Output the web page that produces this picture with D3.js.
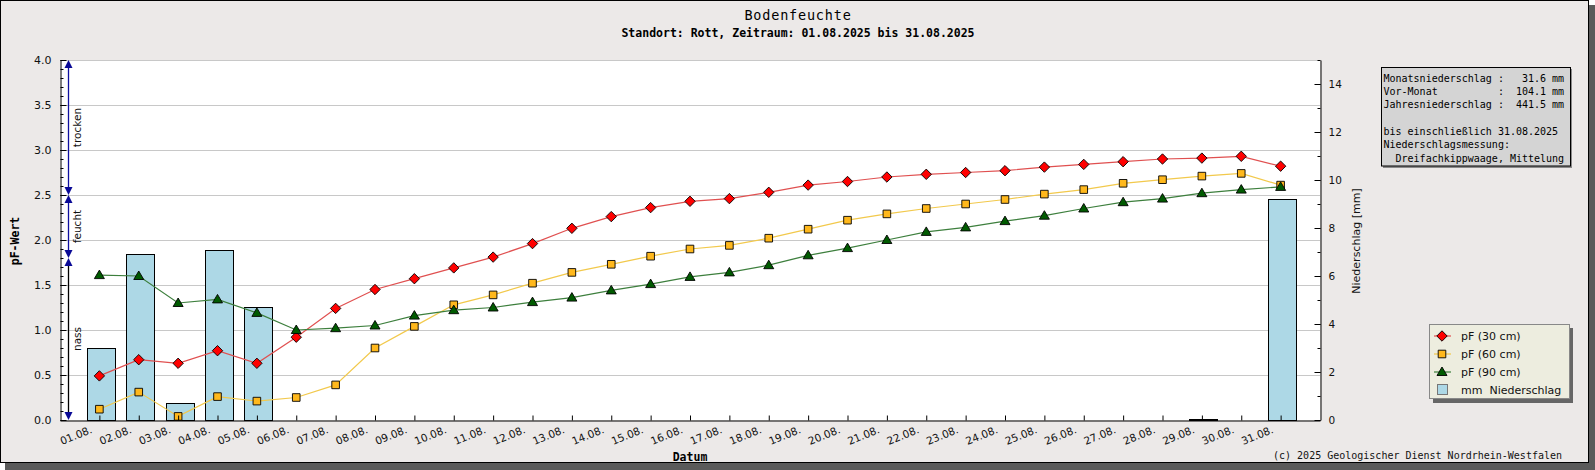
<!DOCTYPE html>
<html>
<head>
<meta charset="utf-8">
<script src="https://cdn.jsdelivr.net/npm/d3@7"></script>
<style>
  body { margin: 0; background: #ffffff; }
  text { font-family: "DejaVu Sans", sans-serif; white-space: pre; }
  .mono { font-family: "DejaVu Sans Mono", monospace; }
</style>
</head>
<body>
<svg id="chart_svg"></svg>
<script>
// Tage im August
const days = ["01.08.", "02.08.", "03.08.", "04.08.", "05.08.", "06.08.", "07.08.", "08.08.", "09.08.", "10.08.",
  "11.08.", "12.08.", "13.08.", "14.08.", "15.08.", "16.08.", "17.08.", "18.08.", "19.08.", "20.08.",
  "21.08.", "22.08.", "23.08.", "24.08.", "25.08.", "26.08.", "27.08.", "28.08.", "29.08.", "30.08.", "31.08."];

const pf30 = [0.49, 0.67, 0.63, 0.77, 0.63, 0.92, 1.24, 1.45, 1.57, 1.69, 1.81, 1.96, 2.13, 2.26, 2.36, 2.43,
  2.46, 2.53, 2.61, 2.65, 2.70, 2.73, 2.75, 2.77, 2.81, 2.84, 2.87, 2.90, 2.91, 2.93, 2.82];
const pf60 = [0.12, 0.31, 0.04, 0.26, 0.21, 0.25, 0.39, 0.80, 1.04, 1.28, 1.39, 1.52, 1.64, 1.73, 1.82, 1.90,
  1.94, 2.02, 2.12, 2.22, 2.29, 2.35, 2.40, 2.45, 2.51, 2.56, 2.63, 2.67, 2.71, 2.74, 2.61];
const pf90 = [1.61, 1.60, 1.30, 1.34, 1.19, 1.00, 1.02, 1.05, 1.16, 1.22, 1.25, 1.31, 1.36, 1.44, 1.51, 1.59,
  1.64, 1.72, 1.83, 1.91, 2.00, 2.09, 2.14, 2.21, 2.27, 2.35, 2.42, 2.46, 2.52, 2.56, 2.59];
// Niederschlag in mm
const rain = [3.0, 6.9, 0.7, 7.1, 4.7, 0, 0, 0, 0, 0, 0, 0, 0, 0, 0, 0,
  0, 0, 0, 0, 0, 0, 0, 0, 0, 0, 0, 0, 0.05, 0, 9.2];

const leftTicks = [0, 0.5, 1.0, 1.5, 2.0, 2.5, 3.0, 3.5, 4.0];
const rightTicks = [0, 2, 4, 6, 8, 10, 12, 14];

const rangeLabels = ["trocken", "feucht", "nass"];
const rangeLimits = [[2.5, 4.0], [1.8, 2.5], [0, 1.8]];

const legendLabels = ["pF (30 cm)", "pF (60 cm)", "pF (90 cm)", "mm  Niederschlag"];

const infoLines = [
  "Monatsniederschlag :   31.6 mm",
  "Vor-Monat          :  104.1 mm",
  "Jahresniederschlag :  441.5 mm",
  "",
  "bis einschließlich 31.08.2025",
  "Niederschlagsmessung:",
  "  Dreifachkippwaage, Mittelung"
];

const width = 1595, height = 470;
const plot = { left: 60, right: 1320, top: 60, bottom: 420 };

const svg = d3.select("#chart_svg")
  .attr("width", width)
  .attr("height", height);

// Hintergrund + Schatten
svg.append("rect").attr("x", 5).attr("y", 5).attr("width", width - 5).attr("height", height - 5).attr("fill", "#5a5a5a");
svg.append("rect").attr("x", 0.5).attr("y", 0.5).attr("width", 1588).attr("height", 462)
  .attr("fill", "#ECE9E8").attr("stroke", "#000");

const x = d3.scaleLinear().domain([0, days.length + 1]).range([plot.left, plot.right]);
const y = d3.scaleLinear().domain([0, 4]).range([plot.bottom, plot.top]);
const y2 = d3.scaleLinear().domain([0, 15]).range([plot.bottom, plot.top]);

svg.append("rect")
  .attr("x", plot.left).attr("y", plot.top)
  .attr("width", plot.right - plot.left).attr("height", plot.bottom - plot.top)
  .attr("fill", "#fff");

// Gitterlinien
svg.append("g").selectAll("line")
  .data(leftTicks.filter(d => d > 0))
  .enter().append("line")
  .attr("x1", plot.left).attr("x2", plot.right)
  .attr("y1", d => y(d) + 0.5).attr("y2", d => y(d) + 0.5)
  .attr("stroke", "#c8c8c8");

// Niederschlag-Balken
const barData = rain.map((v, i) => ({ day: i + 1, v })).filter(d => d.v > 0);
svg.append("g").selectAll("rect")
  .data(barData)
  .enter().append("rect")
  .attr("x", d => Math.round(x(d.day) + 1.5 - 14) + 0.5)
  .attr("width", 28)
  .attr("y", d => Math.round(y2(d.v)) + 0.5)
  .attr("height", d => Math.max(0.5, plot.bottom - Math.round(y2(d.v))))
  .attr("fill", "#ADD8E6")
  .attr("stroke", "#000")
  .attr("stroke-width", 1);

// Linien
const series = [
  { values: pf30, line: "#e05050", fill: "#ff0000", shape: "diamond" },
  { values: pf60, line: "#f2c94c", fill: "#ffb81c", shape: "square" },
  { values: pf90, line: "#3d7f3d", fill: "#005a00", shape: "triangle" }
];

const lineGen = d3.line().x((d, i) => x(i + 1)).y(d => y(d));

function markerPath(shape) {
  if (shape === "diamond") return "M0,-5.2L5.2,0L0,5.2L-5.2,0Z";
  if (shape === "square") return "M-3.8,-3.8H3.8V3.8H-3.8Z";
  return "M0,-5L5,3.5H-5Z";
}

series.forEach(s => {
  svg.append("path")
    .datum(s.values)
    .attr("d", lineGen)
    .attr("fill", "none")
    .attr("stroke", s.line)
    .attr("stroke-width", 1.2);
});
series.forEach(s => {
  svg.append("g").selectAll("path")
    .data(s.values)
    .enter().append("path")
    .attr("transform", (d, i) => `translate(${x(i + 1)},${y(d)})`)
    .attr("d", markerPath(s.shape))
    .attr("fill", s.fill)
    .attr("stroke", "#000")
    .attr("stroke-width", 0.9);
});

// Achsen
const leftMinor = svg.append("g").attr("transform", `translate(${plot.left + 0.5},0)`)
  .call(d3.axisLeft(y).tickValues(d3.range(0, 41).map(d => d / 10)).tickSize(-3).tickSizeOuter(0).tickFormat(""));
leftMinor.select(".domain").remove();

svg.append("g").attr("transform", `translate(${plot.left + 0.5},0)`)
  .call(d3.axisLeft(y).tickValues(leftTicks).tickSize(-6).tickSizeOuter(0).tickPadding(9).tickFormat(d3.format(".1f")))
  .call(g => g.selectAll("text").attr("font-size", 11).attr("font-family", "DejaVu Sans").attr("fill", "#111"));

const rightMinor = svg.append("g").attr("transform", `translate(${plot.right + 0.5},0)`)
  .call(d3.axisRight(y2).tickValues(d3.range(0, 16)).tickSize(-3).tickSizeOuter(0).tickFormat(""));
rightMinor.select(".domain").remove();

svg.append("g").attr("transform", `translate(${plot.right + 0.5},0)`)
  .call(d3.axisRight(y2).tickValues(rightTicks).tickSize(-6).tickSizeOuter(0).tickPadding(8))
  .call(g => g.selectAll("text").attr("font-size", 10.5).attr("font-family", "DejaVu Sans").attr("fill", "#111"));

svg.append("g").attr("transform", `translate(0,${plot.bottom + 0.5})`)
  .call(d3.axisBottom(x).tickValues(d3.range(1, days.length + 1)).tickSize(-5).tickSizeOuter(0)
    .tickFormat(d => days[d - 1]))
  .call(g => g.selectAll("text")
    .attr("font-size", 10.5).attr("font-family", "DejaVu Sans").attr("fill", "#111")
    .attr("text-anchor", "end")
    .attr("x", 0).attr("y", 0).attr("dy", 0)
    .attr("transform", "translate(-7,12) rotate(-22)"));

// Bereichsangaben trocken / feucht / nass
const rangeX = 68.5;
rangeLimits.forEach((r, i) => {
  const g = svg.append("g");
  const top = y(r[1]), bot = y(r[0]);
  g.append("line").attr("x1", rangeX).attr("x2", rangeX).attr("y1", top + 4).attr("y2", bot - 4)
    .attr("stroke", i < 2 ? "#1010a0" : "#000").attr("stroke-width", 1.3);
  g.append("path").attr("d", `M${rangeX},${top}L${rangeX + 4},${top + 8}L${rangeX - 4},${top + 8}Z`).attr("fill", "#0a0a96");
  g.append("path").attr("d", `M${rangeX},${bot}L${rangeX + 4},${bot - 8}L${rangeX - 4},${bot - 8}Z`).attr("fill", "#0a0a96");
  const cy = (top + bot) / 2;
  g.append("text").attr("x", 80.5).attr("y", cy)
    .attr("transform", `rotate(-90,80.5,${cy})`)
    .attr("text-anchor", "middle").attr("font-size", 10.5).attr("fill", "#111")
    .text(rangeLabels[i]);
});

// Titel
svg.append("text").attr("class", "mono").attr("x", 798).attr("y", 20)
  .attr("text-anchor", "middle").attr("font-size", 13.5).attr("letter-spacing", 0.8).attr("fill", "#000")
  .text("Bodenfeuchte");
svg.append("text").attr("class", "mono").attr("x", 798).attr("y", 37)
  .attr("text-anchor", "middle").attr("font-size", 11.5).attr("font-weight", "bold").attr("fill", "#000")
  .text("Standort: Rott, Zeitraum: 01.08.2025 bis 31.08.2025");

svg.append("text").attr("class", "mono").attr("x", (plot.left + plot.right) / 2).attr("y", 461)
  .attr("text-anchor", "middle").attr("font-size", 11.5).attr("font-weight", "bold").text("Datum");

svg.append("text").attr("class", "mono").attr("x", 18.5).attr("y", 241)
  .attr("transform", "rotate(-90,18.5,241)")
  .attr("text-anchor", "middle").attr("font-size", 11.5).attr("font-weight", "bold").text("pF-Wert");

svg.append("text").attr("x", 1360).attr("y", 241)
  .attr("transform", "rotate(-90,1360,241)")
  .attr("text-anchor", "middle").attr("font-size", 11).attr("fill", "#111").text("Niederschlag [mm]");

svg.append("text").attr("class", "mono").attr("x", 1562).attr("y", 459)
  .attr("text-anchor", "end").attr("font-size", 10).attr("fill", "#111")
  .text("(c) 2025 Geologischer Dienst Nordrhein-Westfalen");

// Infobox
const info = svg.append("g");
info.append("rect").attr("x", 1383).attr("y", 69).attr("width", 189).attr("height", 99).attr("fill", "#8a8a8a");
info.append("rect").attr("x", 1381.5).attr("y", 67.5).attr("width", 189).attr("height", 98.5)
  .attr("fill", "#d4d4d4").attr("stroke", "#000");
info.selectAll("text")
  .data(infoLines)
  .enter().append("text")
  .attr("class", "mono")
  .attr("x", 1383.5)
  .attr("y", (d, i) => 81.5 + i * 13.35)
  .attr("font-size", 10).attr("fill", "#000")
  .text(d => d);

// Legende
const leg = svg.append("g");
leg.append("rect").attr("x", 1433).attr("y", 328).attr("width", 140).attr("height", 75).attr("fill", "#666");
leg.append("rect").attr("x", 1429.5).attr("y", 324.5).attr("width", 140).attr("height", 74)
  .attr("fill", "#ededdf").attr("stroke", "#888");
legendLabels.forEach((lab, i) => {
  const ly = 336 + i * 18;
  if (i < 3) {
    const s = series[i];
    leg.append("line").attr("x1", 1434).attr("x2", 1451).attr("y1", ly).attr("y2", ly)
      .attr("stroke", s.line).attr("stroke-width", 1.2);
    leg.append("path").attr("transform", `translate(1442,${ly})`).attr("d", markerPath(s.shape))
      .attr("fill", s.fill).attr("stroke", "#000").attr("stroke-width", 0.9);
  } else {
    leg.append("rect").attr("x", 1437.5).attr("y", ly - 5.5).attr("width", 10).attr("height", 10)
      .attr("fill", "#ADD8E6").attr("stroke", "#777");
  }
  leg.append("text").attr("x", 1461).attr("y", ly + 4).attr("font-size", 11).attr("fill", "#111").text(lab);
});
</script>
</body>
</html>
